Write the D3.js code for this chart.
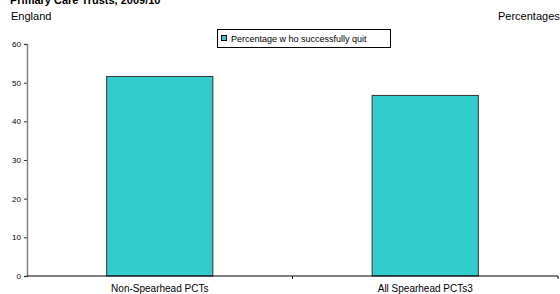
<!DOCTYPE html>
<html><head><meta charset="utf-8">
<script src="https://cdn.jsdelivr.net/npm/d3@7"></script>
<style>body{margin:0;background:#fff}svg{display:block;font-family:"Liberation Sans",Arial,sans-serif}</style>
</head><body><svg id="c" width="560" height="294"></svg>
<script>
const categories = ["Non-Spearhead PCTs", "All Spearhead PCTs3"];
const values = [51.6, 46.7];
const yTicks = [0, 10, 20, 30, 40, 50, 60];
const seriesName = "Percentage w ho successfully quit";
const title = "Primary Care Trusts, 2009/10";

const svg = d3.select("#c");
const x = d3.scaleBand().domain(categories).range([27, 558]).paddingInner(0.6).paddingOuter(0.3);
const xb = d3.scaleBand().domain(categories).range([27, 558]).padding(0);
const y = d3.scaleLinear().domain([0, 60]).range([276, 44]);

svg.append("text").attr("x", 10).attr("y", 4).attr("font-size", 11).attr("font-weight", "bold").text(title);
svg.append("text").attr("x", 11).attr("y", 20).attr("font-size", 11).text("England");
svg.append("text").attr("x", 498).attr("y", 20).attr("font-size", 11).text("Percentages");

// bars
svg.selectAll("rect.bar").data(values).join("rect").attr("class", "bar")
  .attr("x", (d, i) => x(categories[i])).attr("width", x.bandwidth())
  .attr("y", d => y(d)).attr("height", d => y(0) - y(d))
  .attr("fill", "#33CCCC").attr("stroke", "#333").attr("stroke-width", 1);

// y axis
const ya = svg.append("g").attr("transform", "translate(27,0)")
  .call(d3.axisLeft(y).tickValues(yTicks).tickSize(3).tickPadding(3));
ya.select(".domain").attr("stroke", "#808080").attr("stroke-width", 1.5);
ya.selectAll(".tick line").attr("stroke", "#333");
ya.selectAll("text").attr("font-size", 8).attr("font-family", "Liberation Sans, Arial, sans-serif").attr("fill", "#000");

// baseline
svg.append("line").attr("x1", 27).attr("x2", 558).attr("y1", y(0)).attr("y2", y(0)).attr("stroke", "#000").attr("stroke-width", 1);
// category boundary ticks
svg.selectAll("line.ct").data(categories).join("line").attr("class", "ct")
  .attr("x1", d => xb(d) + xb.bandwidth()).attr("x2", d => xb(d) + xb.bandwidth())
  .attr("y1", y(0)).attr("y2", y(0) + 3).attr("stroke", "#000");
// category labels
svg.selectAll("text.cl").data(categories).join("text").attr("class", "cl")
  .attr("x", d => x(d) + x.bandwidth() / 2).attr("y", 292).attr("text-anchor", "middle")
  .attr("font-size", 10).text(d => d);

// legend
const lg = svg.append("g");
lg.append("rect").attr("x", 217.5).attr("y", 29.5).attr("width", 173).attr("height", 18).attr("fill", "#fff").attr("stroke", "#000");
lg.append("rect").attr("x", 221.5).attr("y", 35.5).attr("width", 5).attr("height", 5).attr("fill", "#33CCCC").attr("stroke", "#000");
lg.append("text").attr("x", 231).attr("y", 42).attr("font-size", 9).text(seriesName);
</script></body></html>
